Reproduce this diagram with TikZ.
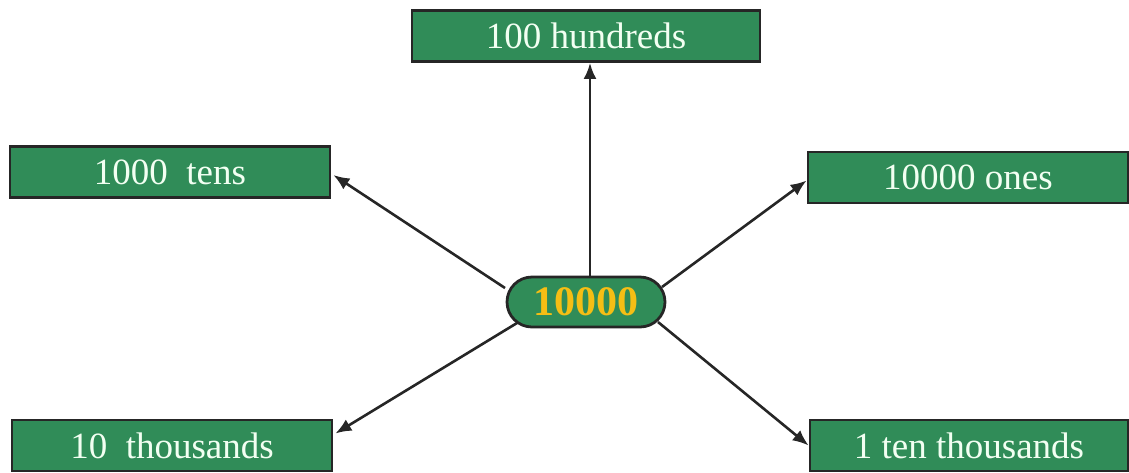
\documentclass[tikz,border=0pt]{standalone}
\usepackage{fontspec}
\setmainfont{Liberation Serif}
\usetikzlibrary{arrows.meta,shapes.misc}
\definecolor{boxgreen}{RGB}{48,140,88}
\definecolor{numgold}{RGB}{245,190,20}

\begin{document}
\begin{tikzpicture}[x=.5pt, y=-.5pt,
  box/.style={draw=black!85, line width=1.4pt, fill=boxgreen, text=white!95!green,
    minimum width=160pt, minimum height=25.5pt, inner sep=0pt,
    font=\fontsize{18.5}{20}\selectfont},
  arr/.style={-{Latex[length=8pt,width=6.5pt]}, line width=1.3pt, black!85}]
\useasboundingbox (0,0) rectangle (1129,472);

\node[box, minimum width=174pt] (hund) at (586,36) {100 hundreds};
\node[box] (tens) at (170,172) {1000\ \ tens};
\node[box] (ones) at (968,177.5) {10000 ones};
\node[box] (thou) at (172,445.5) {10\ \ thousands};
\node[box, minimum width=159pt] (tenth) at (969,445.5) {1 ten thousands};
\node[rounded rectangle, draw=black!85, line width=1.4pt, fill=boxgreen,
  minimum width=79pt, minimum height=25pt, inner sep=0pt, text=numgold,
  font=\fontsize{21}{22}\selectfont\bfseries] (num) at (586,302) {10000};

\draw[arr] ([xshift=2pt]num.north) -- ([xshift=2pt]hund.south);
\draw[arr] ([shift={(-40.5pt,7pt)}]num.center) -- ([xshift=1pt, yshift=-1.5pt]tens.east);
\draw[arr] ([shift={(38pt,7.5pt)}]num.center) -- ([yshift=-1.5pt]ones.west);
\draw[arr] ([shift={(-34.5pt,-10.5pt)}]num.center) -- ([xshift=1pt, yshift=6pt]thou.east);
\draw[arr] ([shift={(36pt,-10pt)}]num.center) -- (tenth.west);
\end{tikzpicture}
\end{document}
